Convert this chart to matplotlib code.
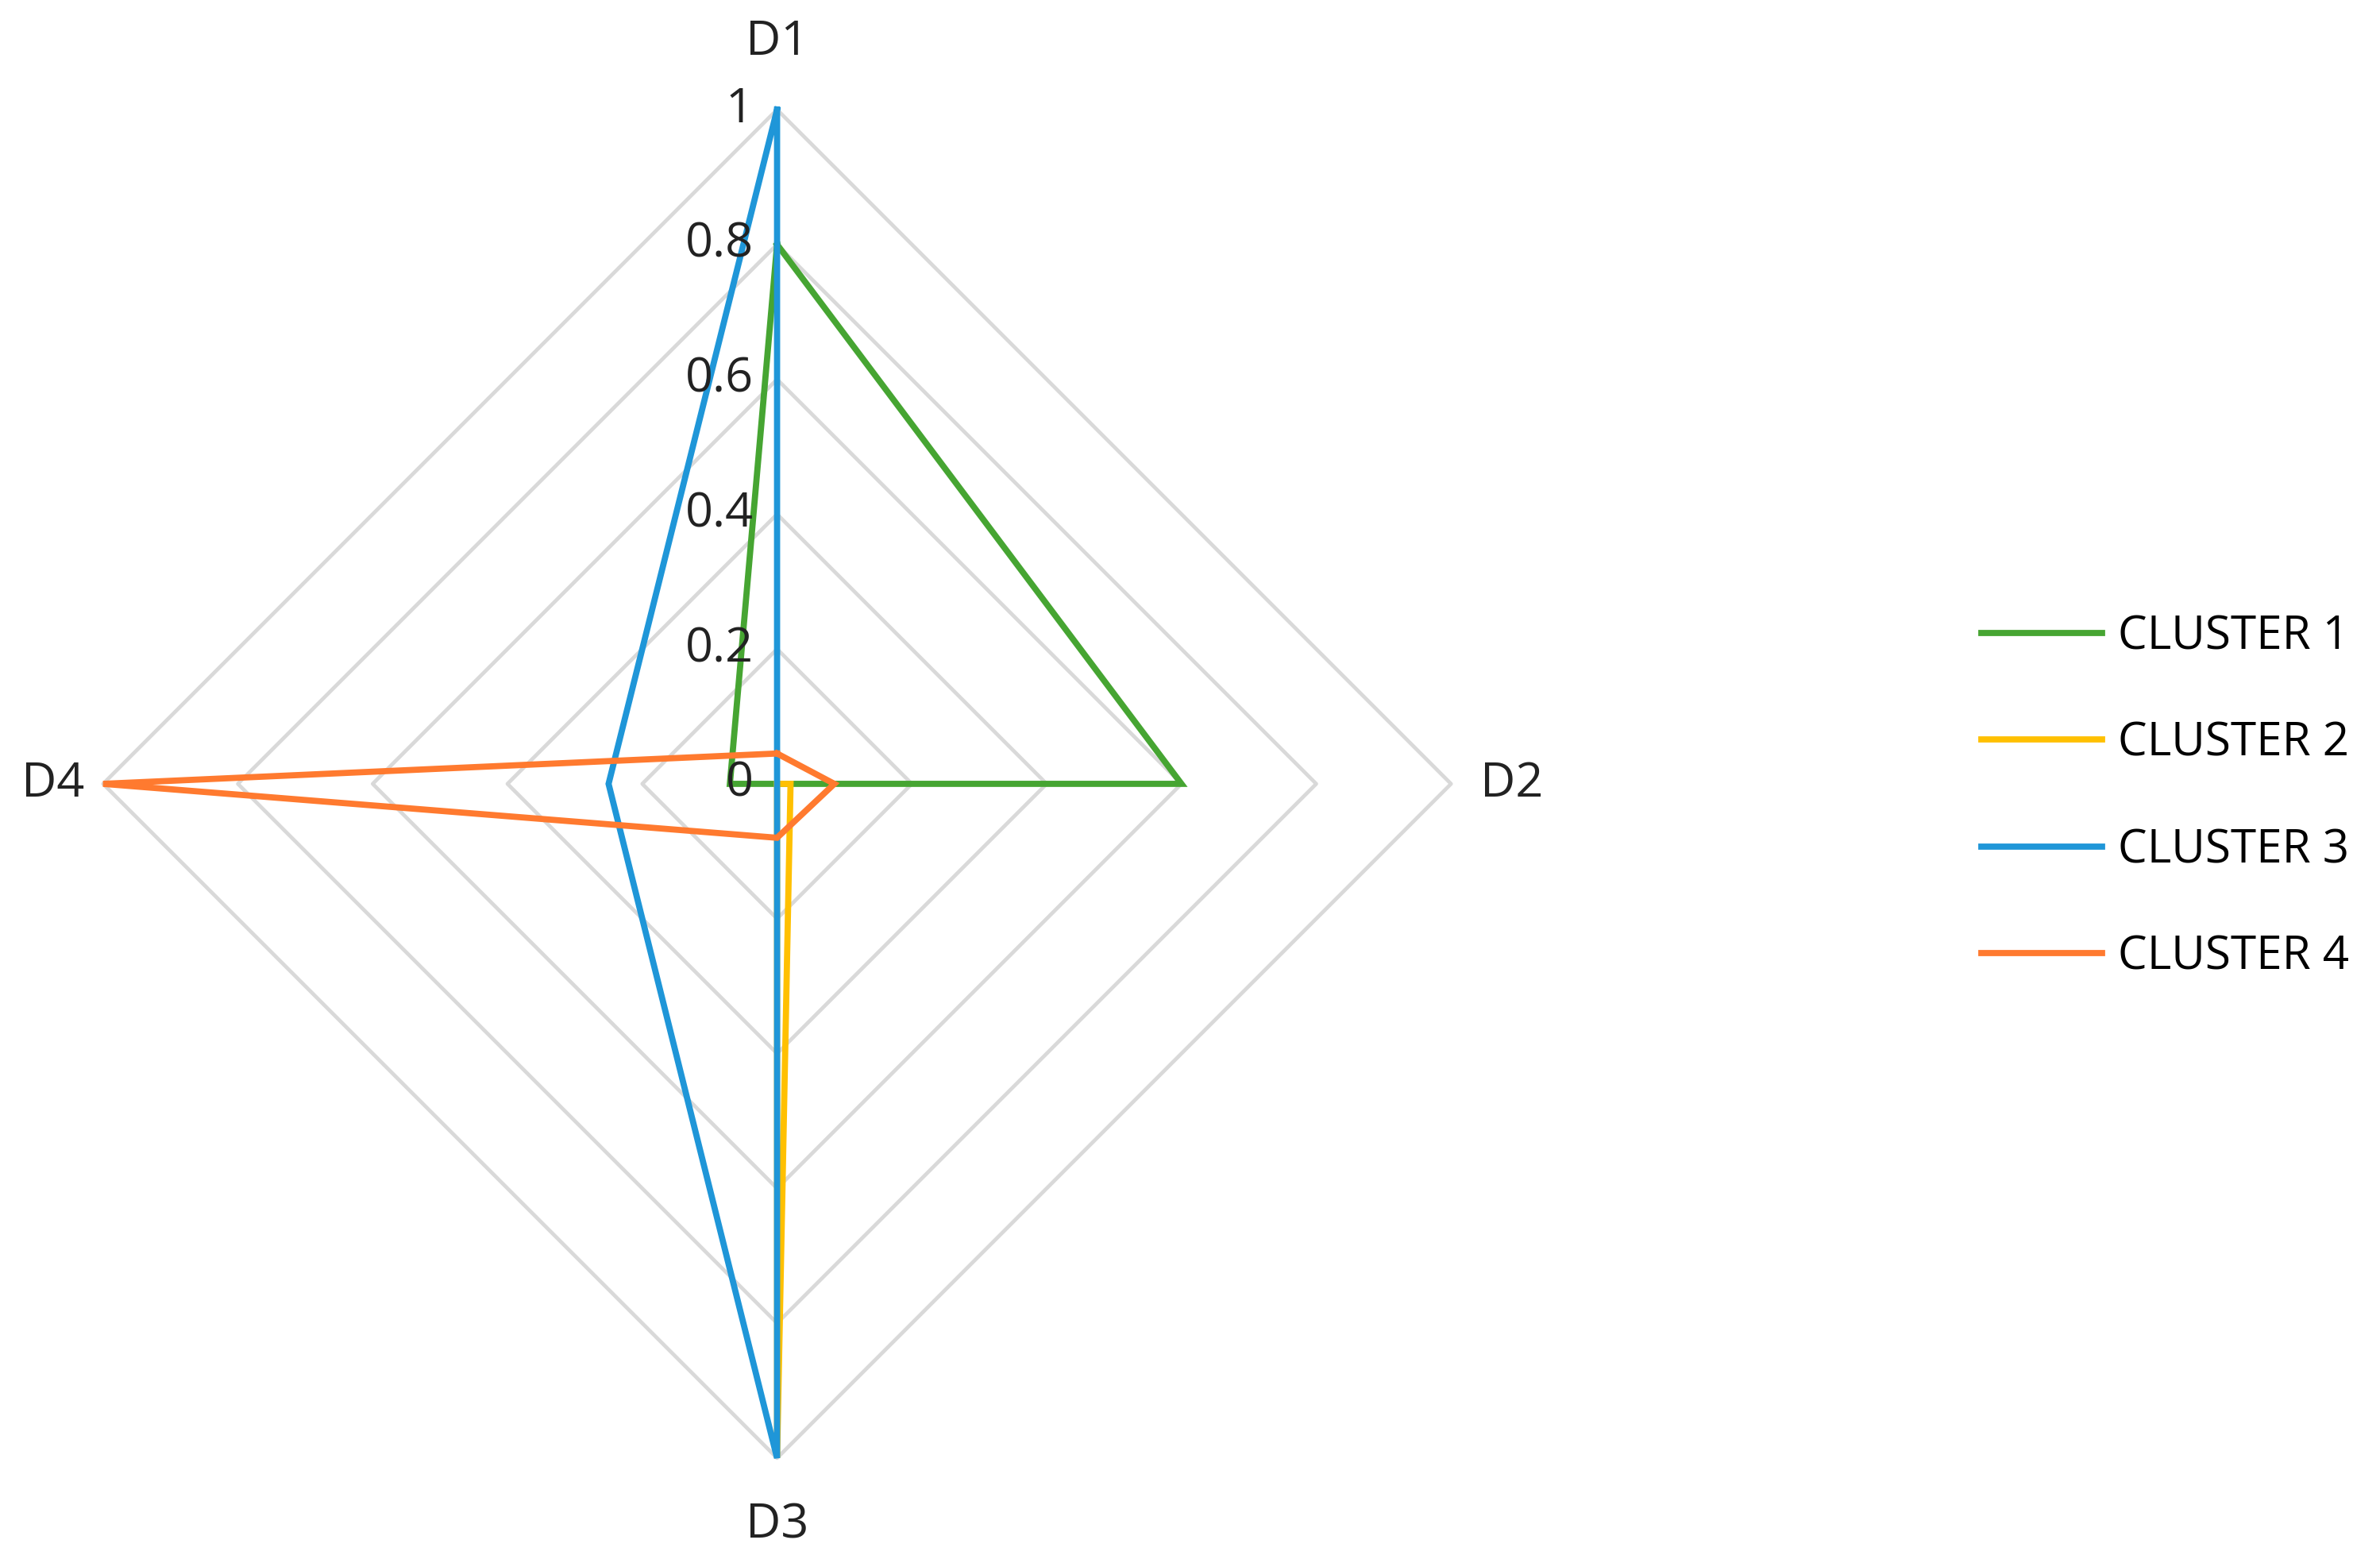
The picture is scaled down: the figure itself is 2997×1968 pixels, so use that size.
import numpy as np
import matplotlib.pyplot as plt

plt.rcParams['font.family'] = ['Open Sans', 'DejaVu Sans']

axes_names = ['D1', 'D2', 'D3', 'D4']
ticks = [0, 0.2, 0.4, 0.6, 0.8, 1.0]
tick_labels = ['0', '0.2', '0.4', '0.6', '0.8', '1']
series = ['CLUSTER 1', 'CLUSTER 2', 'CLUSTER 3', 'CLUSTER 4']
values = {
    'CLUSTER 1': [0.80, 0.60, 0.0, 0.07],
    'CLUSTER 2': [0.0, 0.02, 1.0, 0.0],
    'CLUSTER 3': [1.0, 0.0, 1.0, 0.25],
    'CLUSTER 4': [0.045, 0.085, 0.08, 1.0],
}
colors = ['#46A532', '#FFC000', '#1F96D8', '#FF7A2F']

# clockwise from top
ang = np.pi / 2 - np.arange(len(axes_names)) * 2 * np.pi / len(axes_names)
ux, uy = np.cos(ang), np.sin(ang)

fig = plt.figure(figsize=(14.985, 9.84), dpi=200)
ax = fig.add_axes([0.015, 0.024, 0.623, 0.949])
ax.set_xlim(-1.1, 1.1)
ax.set_ylim(-1.1, 1.1)
ax.axis('off')

# grid diamonds (no spokes)
for t in ticks[1:]:
    ax.plot(np.append(ux, ux[0]) * t, np.append(uy, uy[0]) * t,
            color='#D9D9D9', lw=1.7, zorder=0)

# series
for name, c in zip(series, colors):
    v = np.array(values[name])
    ax.plot(np.append(v * ux, v[0] * ux[0]), np.append(v * uy, v[0] * uy[0]),
            color=c, lw=2.8, label=name, solid_joinstyle='miter')

# tick labels along D1
for t, lab in zip(ticks, tick_labels):
    ax.text(-0.035, t, lab, ha='right', va='center', fontsize=22, color='#222222')

# category labels
offs = [1.1, 1.09, 1.1, 1.075]
for name, x, y, o in zip(axes_names, ux, uy, offs):
    ax.text(x * o, y * o, name, ha='center', va='center', fontsize=22,
            color='#222222', clip_on=False)

fig.legend(loc='center left', bbox_to_anchor=(0.815, 0.49), frameon=False,
           fontsize=21, labelspacing=1.3, handlelength=2.6, handletextpad=0.35)

fig.savefig('out.png', dpi=200)
